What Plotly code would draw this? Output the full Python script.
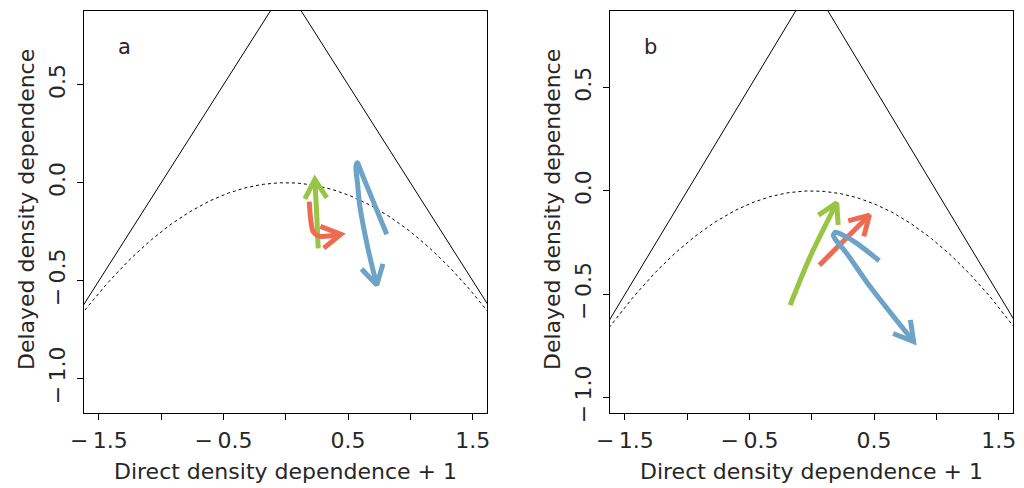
import numpy as np
import plotly.graph_objects as go

W, H = 1024, 488

# ---- data ----
tri_x = [-2.0, 0.0, 2.0]
tri_y = [-1.0, 1.0, -1.0]
para_x = np.linspace(-2, 2, 201)
para_y = -para_x ** 2 / 4

# panel a paths
green_a_x = [0.26, 0.248, 0.233]
green_a_y = [-0.335, -0.16, 0.017]
red_a_x = [0.188, 0.2, 0.22, 0.26, 0.354, 0.442]
red_a_y = [-0.097, -0.19, -0.25, -0.272, -0.272, -0.263]
blue_a_x = [0.81, 0.71, 0.609, 0.574, 0.563, 0.575, 0.595, 0.662, 0.73]
blue_a_y = [-0.263, -0.108, 0.048, 0.102, 0.082, 0.0, -0.122, -0.343, -0.522]

# panel b paths
green_b_x = [-0.174, -0.014, 0.2]
green_b_y = [-0.552, -0.319, -0.058]
red_b_x = [0.061, 0.463]
red_b_y = [-0.359, -0.117]
blue_b_x = [0.541, 0.362, 0.254, 0.19, 0.172, 0.19, 0.281, 0.469, 0.817]
blue_b_y = [-0.338, -0.254, -0.215, -0.2, -0.215, -0.235, -0.303, -0.464, -0.729]

x_ticks = [-1.5, -1.0, -0.5, 0.0, 0.5, 1.0, 1.5]
x_ticktext = ["\u2212\u20091.5", "", "\u2212\u20090.5", "", "0.5", "", "1.5"]
y_ticks = [-1.0, -0.5, 0.0, 0.5]
y_ticktext = ["\u2212\u20091.0", "\u2212\u20090.5", "0.0", "0.5"]

GREEN = "#99c545"
RED = "#ee6a50"
BLUE = "#6ea3c8"
FONT = "DejaVu Sans"
TXT = "#262626"

panels = [
    dict(xdom=[84 / W, 487 / W], xr=[-1.62, 1.615], yr=[-1.175, 0.876], label="a",
         paths=[(green_a_x, green_a_y, GREEN), (red_a_x, red_a_y, RED), (blue_a_x, blue_a_y, BLUE)]),
    dict(xdom=[610 / W, 1013 / W], xr=[-1.62, 1.615], yr=[-1.074, 0.87], label="b",
         paths=[(green_b_x, green_b_y, GREEN), (red_b_x, red_b_y, RED), (blue_b_x, blue_b_y, BLUE)]),
]
ydom = [1 - 413 / H, 1 - 11 / H]

fig = go.Figure()


def arrow_head(xs, ys, sx, sy, L=22, ang=np.deg2rad(30)):
    # sx, sy pixels per data unit
    px, py = xs[-1] * sx, ys[-1] * sy
    qx, qy = xs[-2] * sx, ys[-2] * sy
    d = np.array([px - qx, py - qy])
    d = d / np.hypot(*d)
    out_x, out_y = [], []
    for s in (1, -1):
        c, sn = np.cos(s * ang), np.sin(s * ang)
        r = np.array([c * d[0] - sn * d[1], sn * d[0] + c * d[1]])
        out_x.append((px - L * r[0]) / sx)
        out_y.append((py - L * r[1]) / sy)
    return [out_x[0], xs[-1], out_x[1]], [out_y[0], ys[-1], out_y[1]]


for i, p in enumerate(panels):
    xa = "x" if i == 0 else "x2"
    ya = "y" if i == 0 else "y2"
    sx = (p["xdom"][1] - p["xdom"][0]) * W / (p["xr"][1] - p["xr"][0])
    sy = (ydom[1] - ydom[0]) * H / (p["yr"][1] - p["yr"][0])
    fig.add_trace(go.Scatter(x=tri_x, y=tri_y, mode="lines", xaxis=xa, yaxis=ya,
                             line=dict(color="black", width=1), showlegend=False))
    fig.add_trace(go.Scatter(x=para_x, y=para_y, mode="lines", xaxis=xa, yaxis=ya,
                             line=dict(color="black", width=1, dash="3px,3px"), showlegend=False))
    for xs, ys, col in p["paths"]:
        fig.add_trace(go.Scatter(x=xs, y=ys, mode="lines", xaxis=xa, yaxis=ya,
                                 line=dict(color=col, width=5, shape="spline", smoothing=0.8),
                                 showlegend=False))
        hx, hy = arrow_head(xs, ys, sx, sy)
        fig.add_trace(go.Scatter(x=hx, y=hy, mode="lines", xaxis=xa, yaxis=ya,
                                 line=dict(color=col, width=5), showlegend=False))

    axis_common = dict(showgrid=False, zeroline=False, showline=True, mirror=True,
                       linecolor="black", linewidth=1, ticks="outside", ticklen=6,
                       tickcolor="black", automargin=False,
                       tickfont=dict(family=FONT, size=22, color=TXT))
    fig.layout["xaxis" if i == 0 else "xaxis2"] = dict(
        domain=p["xdom"], range=p["xr"], anchor=ya, tickvals=x_ticks, ticktext=x_ticktext,
        ticklabelstandoff=2, **axis_common)
    fig.layout["yaxis" if i == 0 else "yaxis2"] = dict(
        domain=ydom, range=p["yr"], anchor=xa, tickvals=y_ticks, ticktext=y_ticktext,
        tickangle=-90, ticklabelstandoff=3, **axis_common)

    cx = (p["xdom"][0] + p["xdom"][1]) / 2
    fig.add_annotation(xref="paper", yref="paper", x=cx, y=1 - 471 / H,
                       xanchor="center", yanchor="middle",
                       text="Direct density dependence + 1", showarrow=False,
                       font=dict(family=FONT, size=22, color=TXT))
    fig.add_annotation(xref="paper", yref="paper", x=(p["xdom"][0] * W - 58) / W,
                       y=(ydom[0] + ydom[1]) / 2 + 2 / H, textangle=-90,
                       xanchor="center", yanchor="middle",
                       text="Delayed density dependence", showarrow=False,
                       font=dict(family=FONT, size=22, color=TXT))
    fig.add_annotation(xref="paper", yref="paper", x=(p["xdom"][0] * W + 40) / W,
                       y=1 - 47 / H, xanchor="center", yanchor="middle",
                       text=p["label"], showarrow=False,
                       font=dict(family=FONT, size=21, color=TXT))

fig.update_layout(width=W, height=H, margin=dict(l=0, r=0, t=0, b=0),
                  plot_bgcolor="white", paper_bgcolor="white")
fig.write_html("out.html")
